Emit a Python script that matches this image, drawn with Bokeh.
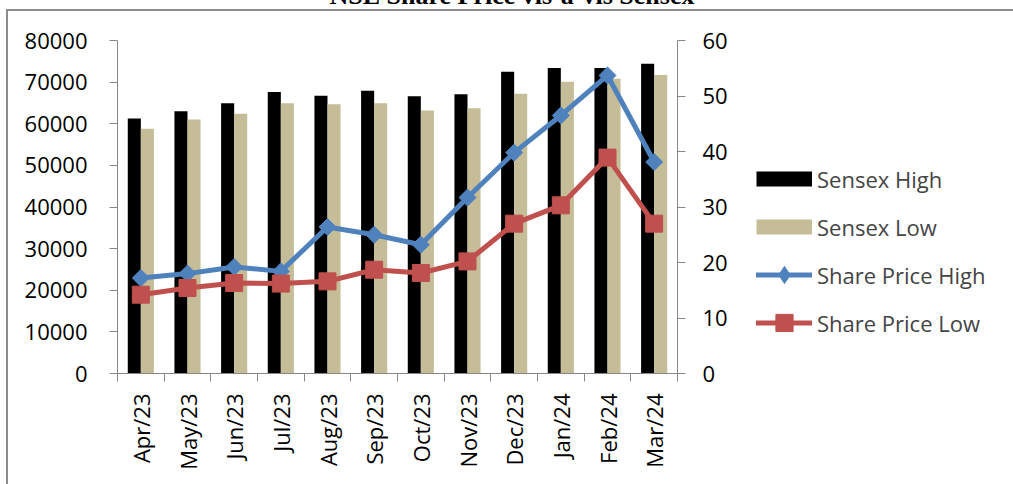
import math
from bokeh.plotting import figure
from bokeh.layouts import row
from bokeh.models import (Range1d, LinearAxis, FixedTicker, Legend, LegendItem,
                          ColumnDataSource)
from bokeh.transform import dodge
from bokeh.embed import file_html
from bokeh.resources import INLINE

# ---------------- data ----------------
months = ["Apr/23", "May/23", "Jun/23", "Jul/23", "Aug/23", "Sep/23",
          "Oct/23", "Nov/23", "Dec/23", "Jan/24", "Feb/24", "Mar/24"]
sensex_high = [61250, 63000, 64900, 67600, 66700, 67900,
               66600, 67100, 72500, 73400, 73400, 74400]
sensex_low = [58800, 61000, 62400, 64900, 64700, 64900,
              63200, 63700, 67200, 70100, 70800, 71700]
share_high = [17.2, 18.0, 19.2, 18.4, 26.4, 25.0,
              23.2, 31.7, 39.8, 46.5, 53.7, 38.1]
share_low = [14.2, 15.4, 16.3, 16.2, 16.6, 18.7,
             18.1, 20.2, 27.0, 30.3, 38.9, 27.0]
left_ticks = [0, 10000, 20000, 30000, 40000, 50000, 60000, 70000, 80000]
right_ticks = [0, 10, 20, 30, 40, 50, 60]
series_names = ["Sensex High", "Sensex Low", "Share Price High", "Share Price Low"]
title_text = "NSE Share Price vis-à-vis Sensex"

x_pos = [i + 0.5 for i in range(len(months))]
src = ColumnDataSource(dict(x=x_pos, month=months, sensex_high=sensex_high,
                            sensex_low=sensex_low, share_high=share_high,
                            share_low=share_low))

FONT = "Open Sans"
AXIS = "#868686"
BLUE = "#4F81BD"
RED = "#C0504D"
TAN = "#C4BD97"
FRAME_GRAY = "#8c8c8c"
SHIFT = 70          # canvas starts above the window: the title is cropped like the reference
H = 484 + SHIFT
W1 = 740
W2 = 1013 - W1


def bg_styles(left_line):
    imgs = [f"linear-gradient({FRAME_GRAY},{FRAME_GRAY})"]
    pos = [f"0px {9 + SHIFT}px"]
    size = ["1200px 2px"]
    if left_line:
        imgs.append(f"linear-gradient({FRAME_GRAY},{FRAME_GRAY})")
        pos = [f"6px {9 + SHIFT}px", f"6px {9 + SHIFT}px"]
        size = ["1200px 2px", "2px 700px"]
    return {
        "margin-top": f"-{SHIFT}px",
        "background-color": "white",
        "background-image": ", ".join(imgs),
        "background-position": ", ".join(pos),
        "background-size": ", ".join(size),
        "background-repeat": "no-repeat",
    }


# ---------------- main chart ----------------
p = figure(width=W1, height=H, output_backend="svg", toolbar_location=None,
           x_range=Range1d(0, len(months)), y_range=Range1d(0, 80000),
           min_border_left=117, min_border_right=W1 - 677, min_border_top=40 + SHIFT,
           min_border_bottom=H - (373 + SHIFT))
p.styles = bg_styles(True)
p.outline_line_color = None
p.grid.visible = False
p.background_fill_alpha = 0
p.border_fill_alpha = 0
p.extra_y_ranges = {"share": Range1d(0, 60)}

p.title.text = title_text
p.title.align = "left"
p.title.offset = 212
p.title.text_font = "Liberation Serif"
p.title.text_font_style = "bold"
p.title.text_font_size = "26px"
p.title.text_color = "black"
p.title.standoff = 61

p.vbar(x=dodge("x", -0.14), top="sensex_high", width=0.28, source=src,
       fill_color="black", line_color=None)
p.vbar(x=dodge("x", 0.14), top="sensex_low", width=0.28, source=src,
       fill_color=TAN, line_color=None)

p.line("x", "share_high", source=src, y_range_name="share",
       line_color=BLUE, line_width=5, line_join="round", line_cap="round")
p.scatter("x", "share_high", source=src, y_range_name="share", marker="square",
          angle=math.pi / 4, size=12, fill_color=BLUE, line_color=BLUE)
p.line("x", "share_low", source=src, y_range_name="share",
       line_color=RED, line_width=5, line_join="round", line_cap="round")
p.scatter("x", "share_low", source=src, y_range_name="share", marker="square",
          size=17, fill_color=RED, line_color=RED)


def style_axis(ax):
    ax.axis_line_color = AXIS
    ax.axis_line_width = 1
    ax.major_tick_line_color = AXIS
    ax.minor_tick_line_color = AXIS
    ax.major_tick_in = 0
    ax.major_tick_out = 8
    ax.minor_tick_in = 0
    ax.minor_tick_out = 0
    ax.major_label_text_font = FONT
    ax.major_label_text_font_size = "22px"
    ax.major_label_text_color = "black"


yl = p.yaxis[0]
yl.ticker = FixedTicker(ticks=left_ticks)
style_axis(yl)
yl.major_label_standoff = 22

yr = LinearAxis(y_range_name="share", ticker=FixedTicker(ticks=right_ticks))
style_axis(yr)
yr.major_label_standoff = 17
p.add_layout(yr, "right")

xa = p.xaxis[0]
xa.ticker = FixedTicker(ticks=x_pos, minor_ticks=list(range(len(months) + 1)))
style_axis(xa)
xa.major_tick_out = 0
xa.minor_tick_out = 8
xa.major_label_overrides = {x: m for x, m in zip(x_pos, months)}
xa.major_label_orientation = math.pi / 2
xa.major_label_standoff = 12

# ---------------- legend panel ----------------
q = figure(width=W2, height=H, output_backend="svg", toolbar_location=None,
           x_range=Range1d(0, 1), y_range=Range1d(0, 1),
           x_axis_location=None, y_axis_location=None,
           min_border_left=0, min_border_right=0, min_border_top=0, min_border_bottom=0)
q.styles = bg_styles(False)
q.outline_line_color = None
q.grid.visible = False
q.background_fill_alpha = 0
q.border_fill_alpha = 0

# swatch renderers (their points sit outside the visible range)
off = dict(x=[-5, -4], y=[-5, -5])
g_sh = q.line(line_color="black", line_width=15, **off)
g_sl = q.line(line_color=TAN, line_width=15, **off)
g_ph = q.line(line_color=BLUE, line_width=5, line_cap="round", **off)
g_phm = q.scatter(x=[-5], y=[-5], marker="diamond", fill_color=BLUE, line_color=BLUE)
g_pl = q.line(line_color=RED, line_width=5, line_cap="round", **off)
g_plm = q.scatter(x=[-5], y=[-5], marker="square", fill_color=RED, line_color=RED)

legend = Legend(items=[
    LegendItem(label=series_names[0], renderers=[g_sh]),
    LegendItem(label=series_names[1], renderers=[g_sl]),
    LegendItem(label=series_names[2], renderers=[g_ph, g_phm]),
    LegendItem(label=series_names[3], renderers=[g_pl, g_plm]),
], location=(16, 29), glyph_width=56, glyph_height=43, spacing=5, padding=0,
    margin=0, label_standoff=5, label_text_font=FONT, label_text_font_size="22px",
    border_line_alpha=0, background_fill_alpha=0)
q.add_layout(legend)

layout = row(p, q)
open("out.html", "w").write(file_html(layout, INLINE))
